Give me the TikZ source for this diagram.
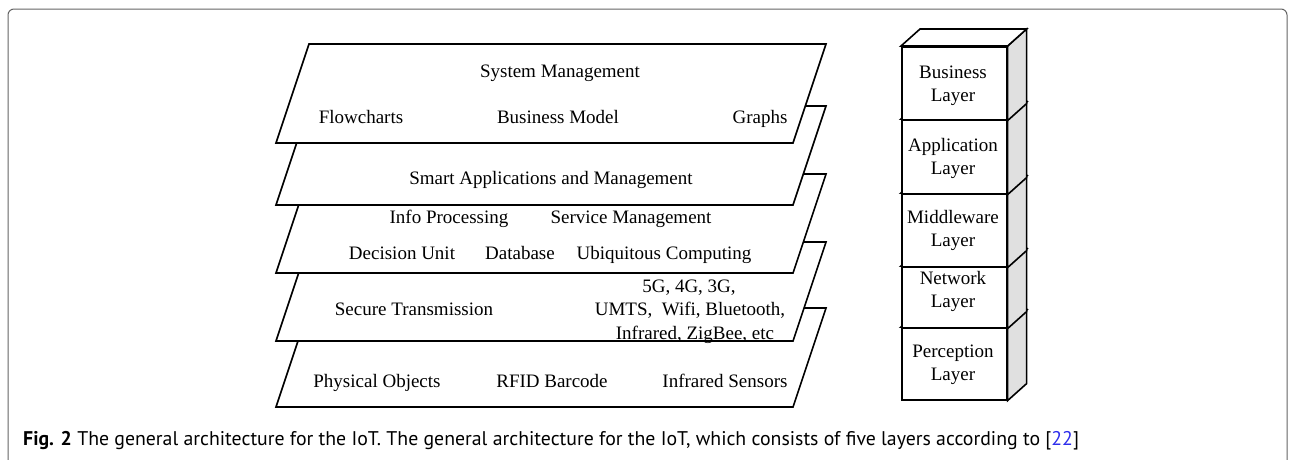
\documentclass[tikz,border=0pt]{standalone}
\usepackage{fontspec}
\setmainfont{Liberation Serif}
\newfontfamily\capfont{PT Sans}
\definecolor{citeblue}{RGB}{45,45,235}
\definecolor{framegray}{RGB}{100,100,100}
\definecolor{sidegray}{RGB}{224,224,224}
\begin{document}
\begin{tikzpicture}[x=1pt,y=-1pt,
  layer/.style={draw=black, fill=white, line width=1.6pt, line join=miter},
  lbl/.style={font=\fontsize{19}{23.5}\selectfont, inner sep=0pt, text height=13pt, text depth=0pt},
  lbltwo/.style={font=\fontsize{19}{23}\selectfont, inner sep=0pt, align=center},
  facefront/.style={draw=black, fill=white, line width=1.6pt, inner sep=0pt, minimum width=105pt},
  faceside/.style={draw=black, fill=sidegray, line width=1.6pt, line join=miter},
  facetop/.style={draw=black, fill=white, line width=1.6pt, line join=miter},
  caption/.style={font=\capfont\fontsize{19.8}{23}\selectfont, inner sep=0pt, anchor=base west}]
\useasboundingbox (0,0) rectangle (1294,459);
\clip (0,0) rectangle (1294,459);

% outer frame (open at the bottom)
\draw[framegray, line width=1pt, rounded corners=6pt] (8,480) -- (8,9) -- (1287,9) -- (1287,480);

% stacked layer planes, drawn back to front
\newcommand{\plane}[1]{%
  \draw[layer] (309,#1) -- (826,#1) -- (793,{#1+99}) -- (276,{#1+99}) -- cycle;}
\plane{308}
\plane{242}
\plane{174}
\plane{106}
\plane{44}

% layer 1
\node[lbl] (sysmgmt) at (560,71) {System Management};
\node[lbl] (flow) at (361,117) {Flowcharts};
\node[lbl] (bmodel) at (558,117) {Business Model};
\node[lbl] (graphs) at (760,117) {Graphs};
% layer 2
\node[lbl] (smartapp) at (551,178) {Smart Applications and Management};
% layer 3
\node[lbl] (infoproc) at (449,217) {Info Processing};
\node[lbl] (servmgmt) at (631,217) {Service Management};
\node[lbl] (decision) at (402,253) {Decision Unit};
\node[lbl] (database) at (520,253) {Database};
\node[lbl] (ubiq) at (664,253) {Ubiquitous Computing};
% layer 4
\node[lbl] (secure) at (414,309) {Secure Transmission};
\node[lbl] (gen) at (689,286) {5G, 4G, 3G,};
\node[lbl] (umts) at (690,309) {UMTS,\ \ Wifi, Bluetooth,};
\node[lbl] (zigbee) at (695,333) {Infrared, ZigBee, etc};
% layer 5
\node[lbl] (physical) at (377,381) {Physical Objects};
\node[lbl] (rfid) at (552,381) {RFID Barcode};
\node[lbl] (irsens) at (725,381) {Infrared Sensors};

% column of five blocks, drawn bottom to top
\newcommand{\block}[3]{%
  \node[facefront, minimum height={#3*1pt}, anchor=north west] (#1) at (901,#2) {};
  \draw[faceside] (#1.north east) -- ++(19,-17) -- ([shift={(19,-17)}]#1.south east) -- (#1.south east) -- cycle;
  \draw[facetop] (#1.north west) -- ++(19,-17) -- ([shift={(19,-17)}]#1.north east) -- (#1.north east) -- cycle;
  \node[facefront, minimum height={#3*1pt}, anchor=north west] at (901,#2) {};}
\block{perception}{327}{72}
\block{network}{266}{61}
\block{middleware}{193}{73}
\block{application}{119}{74}
\block{business}{46}{73}

\node[lbltwo] (businesslbl) at (953,85.5) {Business\\Layer};
\node[lbltwo] (applicationlbl) at (953,158) {Application\\Layer};
\node[lbltwo] (middlewarelbl) at (953,230.5) {Middleware\\Layer};
\node[lbltwo] (networklbl) at (953,291.5) {Network\\Layer};
\node[lbltwo] (perceptionlbl) at (953,365) {Perception\\Layer};

% caption
\node[caption] (cap) at (23,445) {\textbf{Fig. 2} The general architecture for the IoT. The general architecture for the IoT, which consists of five layers according to [\textcolor{citeblue}{22}]};
\end{tikzpicture}
\end{document}
